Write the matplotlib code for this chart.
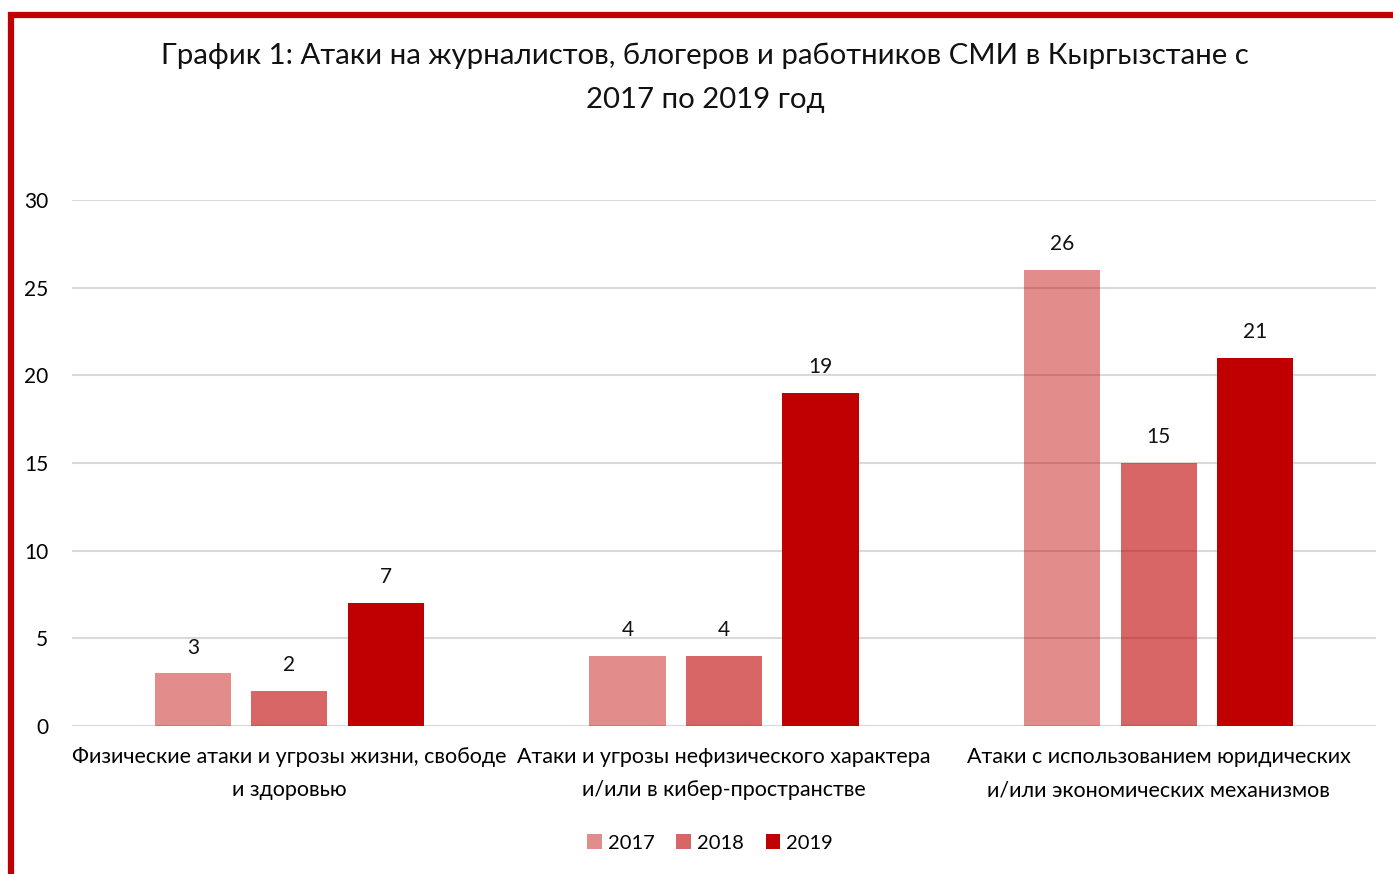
import numpy as np
import matplotlib.pyplot as plt
from matplotlib.patches import Rectangle

# ----------------------------
# Data
# ----------------------------
categories = [
    "Физические атаки и угрозы жизни, свободе\nи здоровью",
    "Атаки и угрозы нефизического характера\nи/или в кибер-пространстве",
    "Атаки с использованием юридических\nи/или экономических механизмов",
]
years = ["2017", "2018", "2019"]
values_2017 = [3, 4, 26]
values_2018 = [2, 4, 15]
values_2019 = [7, 19, 21]
yticks = [0, 5, 10, 15, 20, 25, 30]

title = "График 1: Атаки на журналистов, блогеров и работников СМИ в Кыргызстане с\n2017 по 2019 год"

plt.rcParams['font.family'] = ['Lato', 'DejaVu Sans']

fig = plt.figure(figsize=(13.93, 8.74), dpi=100)
ax = fig.add_axes([72 / 1393, 1 - 726 / 874, (1376 - 72) / 1393, (726 - 200) / 874])

x = np.arange(len(categories))
width = 0.175
offset = 0.222
series = [values_2017, values_2018, values_2019]
alphas = [0.45, 0.6, 1.0]

for i, (vals, yr, a) in enumerate(zip(series, years, alphas)):
    bars = ax.bar(x + (i - 1) * offset, vals, width, color="#c00000", alpha=a,
                  label=yr, zorder=2)
    for b, v in zip(bars, vals):
        ax.text(b.get_x() + b.get_width() / 2, v + 0.9, str(v),
                ha="center", va="bottom", fontsize=15, color="#111111")

ax.set_xlim(-0.5, 2.5)
ax.set_ylim(0, 30)
ax.set_yticks(yticks)
ax.set_yticklabels([str(t) for t in yticks], fontsize=15)
ax.set_xticks(x)
ax.set_xticklabels(categories, fontsize=15.5, linespacing=1.85)
ax.tick_params(axis="x", length=0, pad=15)
ax.tick_params(axis="y", length=0, pad=17)
ax.grid(axis="y", color="#d9d9d9", linewidth=1.5, zorder=0)
for s in ax.spines.values():
    s.set_visible(False)
ax.set_axisbelow(True)

fig.text(705 / 1393, 1 - 78 / 874, title, ha="center", va="center",
         fontsize=21.2, linespacing=1.85, color="#111111")

leg = fig.legend(loc="center", bbox_to_anchor=(710 / 1393, 1 - 843 / 874), ncol=3,
                 frameon=False, fontsize=14.5, handlelength=0.7, handleheight=0.7,
                 handletextpad=0.3, columnspacing=1.1)

# red frame
fig.patches.append(Rectangle((11 / 1393, -0.05), 1.1, 1 - 15 / 874 + 0.05,
                             transform=fig.transFigure, fill=False,
                             edgecolor="#c00000", linewidth=4.5))

fig.savefig("out.png", dpi=100)
